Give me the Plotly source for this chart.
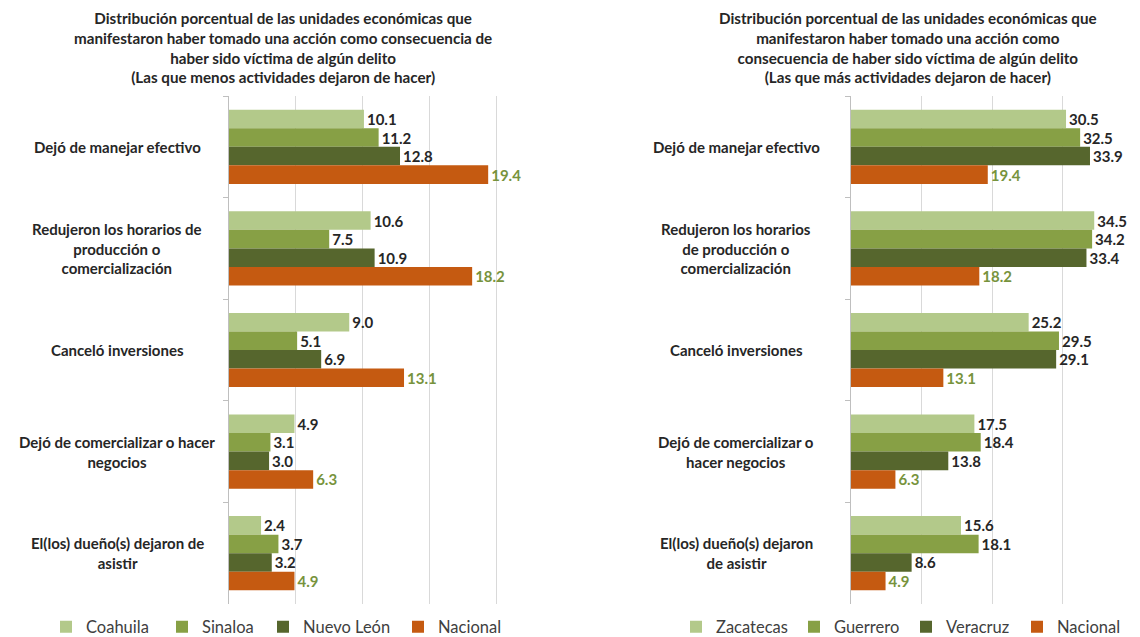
import plotly.graph_objects as go

# ---------------- data ----------------
cat_keys = ["efectivo", "horarios", "inversiones", "comercializar", "duenos"]

left_labels = [
    "Dejó de manejar efectivo",
    "Redujeron los horarios de<br>producción o<br>comercialización",
    "Canceló inversiones",
    "Dejó de comercializar o hacer<br>negocios",
    "El(los) dueño(s) dejaron de<br>asistir",
]
right_labels = [
    "Dejó de manejar efectivo",
    "Redujeron los horarios<br>de producción o<br>comercialización",
    "Canceló inversiones",
    "Dejó de comercializar o<br>hacer negocios",
    "El(los) dueño(s) dejaron<br>de asistir",
]

left_series = ["Coahuila", "Sinaloa", "Nuevo León", "Nacional"]
coahuila = [10.1, 10.6, 9.0, 4.9, 2.4]
sinaloa = [11.2, 7.5, 5.1, 3.1, 3.7]
nuevo_leon = [12.8, 10.9, 6.9, 3.0, 3.2]
nacional = [19.4, 18.2, 13.1, 6.3, 4.9]

right_series = ["Zacatecas", "Guerrero", "Veracruz", "Nacional"]
zacatecas = [30.5, 34.5, 25.2, 17.5, 15.6]
guerrero = [32.5, 34.2, 29.5, 18.4, 18.1]
veracruz = [33.9, 33.4, 29.1, 13.8, 8.6]

left_ticks = [0, 5, 10, 15, 20, 25]
right_ticks = [0, 10, 20, 30, 40]

title_left = ("<b>Distribución porcentual de las unidades económicas que<br>"
              "manifestaron haber tomado una acción como consecuencia de<br>"
              "haber sido víctima de algún delito<br>"
              "(Las que menos actividades dejaron de hacer)</b>")
title_right = ("<b>Distribución porcentual de las unidades económicas que<br>"
               "manifestaron haber tomado una acción como<br>"
               "consecuencia de haber sido víctima de algún delito<br>"
               "(Las que más actividades dejaron de hacer)</b>")

# ---------------- style ----------------
colors = ["#B3C98A", "#87A045", "#56662D", "#C55A11"]
label_colors = ["#262626", "#262626", "#262626", "#77933C"]
FONT = "Lato"
W, H = 1140, 637

# legend square left edges (pixels) for each panel
left_legend_px = [70, 186, 287, 422]
right_legend_px = [700, 818, 930, 1041]

fig = go.Figure()

def add_panel(series_names, series_values, xa, ya, legend_names):
    for name, vals, col, lcol, lg in zip(series_names, series_values, colors,
                                         label_colors, legend_names):
        fig.add_trace(go.Bar(
            y=cat_keys, x=vals, name=name, orientation="h",
            marker=dict(color=col, line=dict(width=0)),
            texttemplate="<b>%{x:.1f}</b>", textposition="outside",
            textfont=dict(family=FONT, size=15, color=lcol),
            cliponaxis=False, xaxis=xa, yaxis=ya, legend=lg,
            hoverinfo="skip",
        ))

legend_ids = ["legend"] + ["legend%d" % i for i in range(2, 9)]
add_panel(left_series, [coahuila, sinaloa, nuevo_leon, nacional], "x", "y", legend_ids[:4])
add_panel(right_series, [zacatecas, guerrero, veracruz, nacional], "x2", "y2", legend_ids[4:])

ydom = [(H - 604) / H, (H - 96) / H]
axis_common = dict(showgrid=True, gridcolor="#D9D9D9", gridwidth=1,
                   zeroline=False, showticklabels=False, ticks="",
                   showline=False, tickmode="array", automargin=False)
yaxis_common = dict(autorange="reversed", showticklabels=False, showgrid=False,
                    showline=True, linecolor="#BFBFBF", linewidth=1,
                    ticks="outside", tickson="boundaries", ticklen=5,
                    tickcolor="#BFBFBF", zeroline=False, automargin=False)

layout_legends = {}
for lg, px in zip(legend_ids, left_legend_px + right_legend_px):
    layout_legends[lg] = dict(
        orientation="h", x=(px - 24) / W, xanchor="left", y=(H - 627) / H,
        yanchor="middle", font=dict(family=FONT, size=16.5, color="#404040"),
        itemwidth=30, bgcolor="rgba(0,0,0,0)", borderwidth=0)

fig.update_layout(
    width=W, height=H, margin=dict(l=0, r=0, t=0, b=0, autoexpand=False),
    paper_bgcolor="white", plot_bgcolor="white",
    barmode="group", bargap=0.27, bargroupgap=0,
    font=dict(family=FONT, color="#404040"),
    xaxis=dict(domain=[229 / W, 563 / W], range=[0, 25], tickvals=left_ticks,
               anchor="y", **axis_common),
    yaxis=dict(domain=ydom, anchor="x", **yaxis_common),
    xaxis2=dict(domain=[851 / W, 1133 / W], range=[0, 40], tickvals=right_ticks,
                anchor="y2", **axis_common),
    yaxis2=dict(domain=ydom, anchor="x2", **yaxis_common),
    showlegend=True,
    **layout_legends,
)

# titles
fig.add_annotation(text=title_left, x=283 / W, y=1 - 47 / H, xref="paper", yref="paper",
                   showarrow=False, align="center", xanchor="center", yanchor="middle",
                   font=dict(family=FONT, size=15.2, color="#262626"))
fig.add_annotation(text=title_right, x=908 / W, y=1 - 47 / H, xref="paper", yref="paper",
                   showarrow=False, align="center", xanchor="center", yanchor="middle",
                   font=dict(family=FONT, size=15.2, color="#262626"))

# category labels
for key, lab in zip(cat_keys, left_labels):
    fig.add_annotation(text="<b>" + lab + "</b>", x=117 / W, y=key, xref="paper", yref="y",
                       showarrow=False, align="center", xanchor="center", yanchor="middle",
                       font=dict(family=FONT, size=15, color="#262626"))
for key, lab in zip(cat_keys, right_labels):
    fig.add_annotation(text="<b>" + lab + "</b>", x=736 / W, y=key, xref="paper", yref="y2",
                       showarrow=False, align="center", xanchor="center", yanchor="middle",
                       font=dict(family=FONT, size=15, color="#262626"))

fig.write_html("out.html", config={"displayModeBar": False},
               post_script="document.body.style.margin='0';document.body.style.padding='0';")
